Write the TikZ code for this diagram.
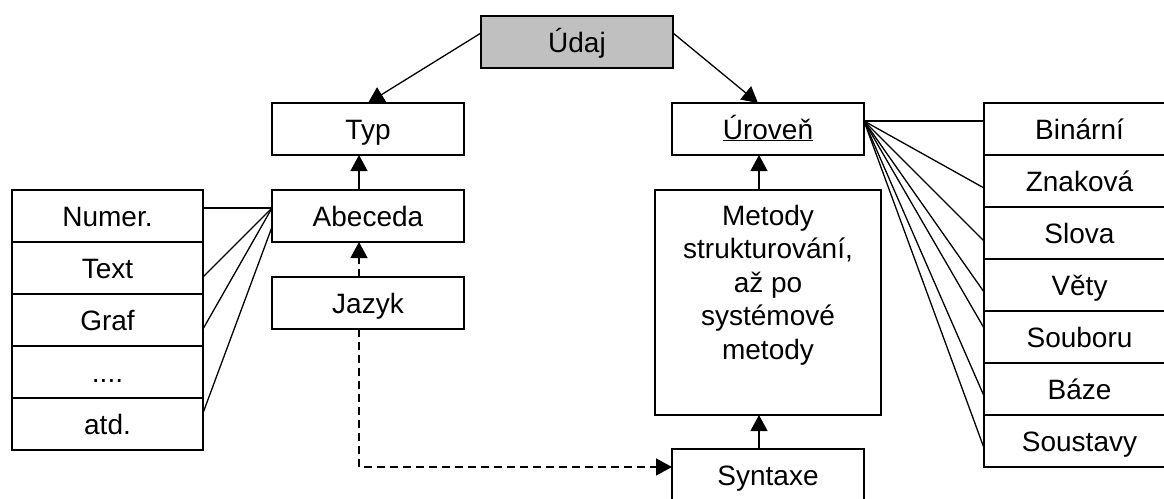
\documentclass[tikz,border=0pt]{standalone}
\usepackage{fontspec}
\setmainfont{Liberation Sans}
\usetikzlibrary{arrows.meta, positioning}
\definecolor{udajbg}{RGB}{192,192,192}

\begin{document}
\begin{tikzpicture}[
    x=1pt, y=1pt,
    node distance = 35pt,
    box/.style    = {rectangle, draw, line width=1.8pt, minimum width=192pt,
                     minimum height=52pt, outer sep=0pt, inner sep=0pt,
                     text height=20pt, text depth=0pt,
                     font=\fontsize{28}{33.5}\selectfont},
    cell/.style   = {box, minimum width=191pt},
    link/.style   = {line width=1.3pt},
    arrow/.style  = {-{Triangle[length=16pt,width=17pt]}, line width=1.3pt},
    dasharrow/.style = {arrow, dash pattern=on 8pt off 5pt},
]

\path[use as bounding box, clip] (0,0) rectangle (1164,-498);

% ── Main boxes ──────────────────────────────────────────────────
\node[box, fill=udajbg] (udaj) at (577,-42) {Údaj};
\node[box] (typ) at (368,-129) {Typ};
\node[box] (uroven) at (768,-129) {\underline{Úroveň}};

\node[box, below=of typ] (abeceda) {Abeceda};
\node[box, below=of abeceda] (jazyk) {Jazyk};

\node[box, minimum width=226pt, text height=35pt, text depth=190pt,
      below=of uroven] (metody)
    {\parbox[t]{215pt}{\centering Metody\\strukturování,\\až po\\systémové\\metody}};
\node[box, below=34pt of metody] (syntaxe) {Syntaxe};

% ── Abeceda items ───────────────────────────────────────────────
\node[cell, left=69pt of abeceda] (a1) {Numer.};
\node[cell, below=0pt of a1] (a2) {Text};
\node[cell, below=0pt of a2] (a3) {Graf};
\node[cell, below=0pt of a3] (a4) {....};
\node[cell, below=0pt of a4] (a5) {atd.};

% ── Úroveň items ────────────────────────────────────────────────
\node[cell, right=120pt of uroven] (u1) {Binární};
\node[cell, below=0pt of u1] (u2) {Znaková};
\node[cell, below=0pt of u2] (u3) {Slova};
\node[cell, below=0pt of u3] (u4) {Věty};
\node[cell, below=0pt of u4] (u5) {Souboru};
\node[cell, below=0pt of u5] (u6) {Báze};
\node[cell, below=0pt of u6] (u7) {Soustavy};

% ── Arrows ──────────────────────────────────────────────────────
\draw[arrow] ([yshift=9pt]udaj.west) -- (typ.north);
\draw[arrow] ([yshift=9pt]udaj.east) -- ([xshift=-10pt]uroven.north);
\draw[arrow] ([xshift=-9pt]abeceda.north) -- ([xshift=-9pt]typ.south);
\draw[dasharrow] ([xshift=-9pt]jazyk.north) -- ([xshift=-9pt]abeceda.south);
\draw[arrow] ([xshift=-9pt]metody.north) -- ([xshift=-9pt]uroven.south);
\draw[arrow] ([xshift=-9pt]syntaxe.north) -- ([xshift=-9pt]metody.south);
\draw[dasharrow] ([xshift=-9pt]jazyk.south) |- ([yshift=8pt]syntaxe.west);

% ── Links to the item lists ─────────────────────────────────────
\draw[link] ([yshift=8pt]abeceda.west) -- ([yshift=8pt]a1.east);
\draw[link] ([yshift=8pt]abeceda.west) -- ([yshift=-9pt]a2.east);
\draw[link] ([yshift=8pt]abeceda.west) -- ([yshift=-9pt]a3.east);
\draw[link] ([yshift=-11pt]abeceda.west) -- ([yshift=11pt]a5.east);

\draw[link] ([yshift=8pt]uroven.east) -- ([yshift=8pt]u1.west);
\draw[link] ([yshift=8pt]uroven.east) -- ([yshift=-7pt]u2.west);
\draw[link] ([yshift=8pt]uroven.east) -- ([yshift=-8pt]u3.west);
\draw[link] ([yshift=8pt]uroven.east) -- ([yshift=-7pt]u4.west);
\draw[link] ([yshift=8pt]uroven.east) -- ([yshift=9pt]u5.west);
\draw[link] ([yshift=8pt]uroven.east) -- ([yshift=-7pt]u6.west);
\draw[link] ([yshift=8pt]uroven.east) -- ([yshift=-7pt]u7.west);

\end{tikzpicture}
\end{document}
